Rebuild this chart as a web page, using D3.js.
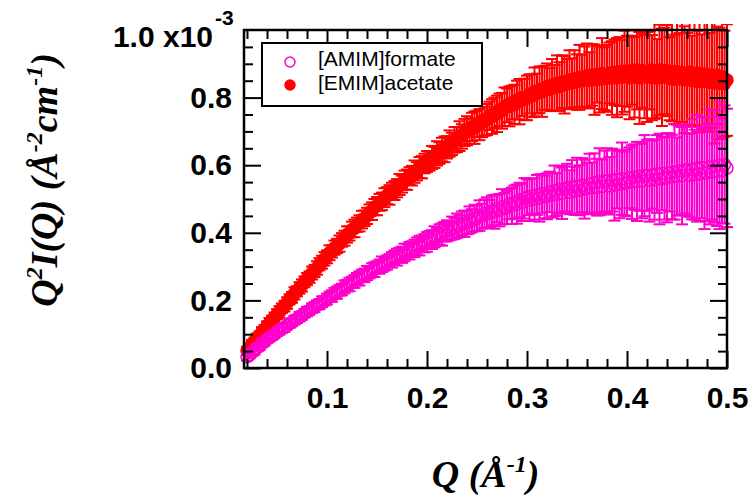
<!DOCTYPE html>
<html>
<head>
<meta charset="utf-8">
<script src="https://cdn.jsdelivr.net/npm/d3@7"></script>
<style>
  body { margin: 0; background: #fff; }
  svg { display: block; }
  .tick text { font-family: "Liberation Sans", Arial, sans-serif; font-weight: bold; font-size: 30px; fill: #000; }
  .tick line { stroke: #000; stroke-width: 2; }
</style>
</head>
<body>
<div id="chart"></div>
<script>
// Q in 1/Angstrom
const q = [
  0.0200, 0.0225, 0.0250, 0.0275, 0.0300, 0.0325, 0.0350, 0.0375,
  0.0400, 0.0425, 0.0450, 0.0475, 0.0500, 0.0525, 0.0550, 0.0575,
  0.0600, 0.0625, 0.0650, 0.0675, 0.0700, 0.0725, 0.0750, 0.0775,
  0.0800, 0.0825, 0.0850, 0.0875, 0.0900, 0.0925, 0.0950, 0.0975,
  0.1000, 0.1025, 0.1050, 0.1075, 0.1100, 0.1125, 0.1150, 0.1175,
  0.1200, 0.1225, 0.1250, 0.1275, 0.1300, 0.1325, 0.1350, 0.1375,
  0.1400, 0.1425, 0.1450, 0.1475, 0.1500, 0.1525, 0.1550, 0.1575,
  0.1600, 0.1625, 0.1650, 0.1675, 0.1700, 0.1725, 0.1750, 0.1775,
  0.1800, 0.1825, 0.1850, 0.1875, 0.1900, 0.1925, 0.1950, 0.1975,
  0.2000, 0.2025, 0.2050, 0.2075, 0.2100, 0.2125, 0.2150, 0.2175,
  0.2200, 0.2225, 0.2250, 0.2275, 0.2300, 0.2325, 0.2350, 0.2375,
  0.2400, 0.2425, 0.2450, 0.2475, 0.2500, 0.2525, 0.2550, 0.2575,
  0.2600, 0.2625, 0.2650, 0.2675, 0.2700, 0.2725, 0.2750, 0.2775,
  0.2800, 0.2825, 0.2850, 0.2875, 0.2900, 0.2925, 0.2950, 0.2975,
  0.3000, 0.3025, 0.3050, 0.3075, 0.3100, 0.3125, 0.3150, 0.3175,
  0.3200, 0.3225, 0.3250, 0.3275, 0.3300, 0.3325, 0.3350, 0.3375,
  0.3400, 0.3425, 0.3450, 0.3475, 0.3500, 0.3525, 0.3550, 0.3575,
  0.3600, 0.3625, 0.3650, 0.3675, 0.3700, 0.3725, 0.3750, 0.3775,
  0.3800, 0.3825, 0.3850, 0.3875, 0.3900, 0.3925, 0.3950, 0.3975,
  0.4000, 0.4025, 0.4050, 0.4075, 0.4100, 0.4125, 0.4150, 0.4175,
  0.4200, 0.4225, 0.4250, 0.4275, 0.4300, 0.4325, 0.4350, 0.4375,
  0.4400, 0.4425, 0.4450, 0.4475, 0.4500, 0.4525, 0.4550, 0.4575,
  0.4600, 0.4625, 0.4650, 0.4675, 0.4700, 0.4725, 0.4750, 0.4775,
  0.4800, 0.4825, 0.4850, 0.4875, 0.4900, 0.4925, 0.4950, 0.4975,
  0.5000
];

// Q^2 I(Q) for [AMIM]formate, units of 1e-3 A^-2 cm^-1
const formateI = [
  .033, .038, .046, .051, .060, .064, .073, .077,
  .086, .089, .096, .099, .107, .110, .117, .120,
  .125, .132, .135, .142, .145, .152, .155, .162,
  .167, .170, .177, .180, .187, .189, .196, .199,
  .204, .211, .213, .221, .223, .230, .232, .240,
  .244, .247, .254, .256, .263, .265, .273, .274,
  .281, .283, .290, .291, .298, .300, .307, .308,
  .312, .318, .320, .327, .328, .334, .335, .342,
  .345, .347, .353, .354, .361, .362, .368, .369,
  .373, .380, .380, .388, .388, .395, .395, .403,
  .406, .406, .414, .413, .421, .420, .428, .427,
  .430, .438, .436, .444, .443, .451, .449, .457,
  .460, .457, .466, .462, .472, .467, .477, .472,
  .475, .485, .480, .491, .485, .497, .490, .502,
  .505, .497, .509, .500, .512, .503, .516, .506,
  .508, .521, .511, .524, .514, .528, .517, .530,
  .533, .520, .536, .524, .538, .526, .541, .529,
  .531, .545, .533, .548, .535, .551, .537, .553,
  .554, .539, .556, .541, .558, .543, .560, .546,
  .548, .563, .550, .565, .552, .567, .553, .569,
  .570, .555, .572, .557, .574, .559, .576, .561,
  .563, .578, .565, .580, .567, .583, .569, .585,
  .586, .570, .588, .572, .591, .574, .593, .576,
  .578, .595, .580, .597, .582, .600, .584, .602,
  .592
];
const formateErr = [
  .011, .009, .010, .011, .009, .011, .011, .010,
  .011, .010, .012, .010, .012, .011, .012, .013,
  .011, .013, .011, .013, .012, .014, .012, .013,
  .014, .012, .014, .015, .013, .015, .016, .014,
  .016, .015, .017, .016, .018, .016, .017, .019,
  .017, .020, .016, .019, .018, .021, .018, .020,
  .021, .018, .020, .022, .018, .021, .023, .020,
  .021, .019, .023, .021, .025, .022, .024, .026,
  .022, .026, .022, .026, .025, .029, .024, .027,
  .029, .025, .028, .031, .026, .030, .033, .029,
  .031, .028, .034, .031, .036, .032, .035, .039,
  .034, .040, .034, .039, .038, .045, .037, .042,
  .045, .040, .044, .050, .041, .048, .052, .046,
  .049, .045, .054, .049, .058, .051, .055, .060,
  .053, .062, .052, .061, .059, .070, .057, .063,
  .068, .060, .066, .075, .062, .070, .076, .067,
  .071, .065, .079, .071, .084, .074, .080, .087,
  .076, .089, .075, .087, .084, .099, .080, .090,
  .096, .085, .093, .105, .086, .100, .107, .094,
  .099, .090, .109, .097, .117, .102, .110, .120,
  .105, .122, .101, .118, .115, .134, .109, .122,
  .132, .115, .125, .141, .115, .132, .144, .128,
  .135, .123, .148, .133, .158, .139, .150, .165,
  .144, .170, .141, .166, .162, .189, .155, .175,
  .175
];

// Q^2 I(Q) for [EMIM]acetate, units of 1e-3 A^-2 cm^-1
const acetateI = [
  .051, .059, .070, .078, .089, .096, .107, .114,
  .125, .132, .142, .149, .159, .166, .177, .183,
  .192, .203, .209, .221, .227, .237, .244, .255,
  .263, .269, .281, .287, .296, .307, .313, .323,
  .329, .341, .345, .356, .361, .368, .379, .384,
  .395, .398, .410, .413, .424, .428, .439, .443,
  .450, .461, .464, .476, .479, .490, .493, .504,
  .510, .512, .524, .525, .532, .543, .544, .556,
  .557, .568, .569, .581, .582, .593, .594, .605,
  .611, .612, .623, .623, .635, .636, .646, .647,
  .653, .664, .663, .675, .676, .686, .685, .697,
  .702, .701, .713, .711, .722, .720, .732, .730,
  .735, .746, .744, .755, .752, .764, .761, .773,
  .777, .774, .785, .780, .793, .788, .800, .795,
  .799, .811, .805, .817, .812, .823, .817, .829,
  .832, .824, .837, .829, .843, .833, .847, .838,
  .840, .853, .843, .856, .846, .860, .849, .862,
  .865, .851, .867, .853, .869, .854, .871, .856,
  .857, .873, .858, .875, .859, .877, .860, .878,
  .878, .859, .881, .860, .882, .858, .880, .862,
  .861, .881, .859, .880, .857, .882, .860, .879,
  .880, .856, .878, .854, .877, .855, .874, .853,
  .853, .876, .850, .873, .848, .872, .847, .870,
  .869, .845, .867, .843, .866, .842, .862, .841,
  .852
];
const acetateErr = [
  .012, .011, .013, .012, .013, .012, .014, .013,
  .013, .016, .013, .015, .015, .017, .014, .016,
  .017, .015, .016, .018, .015, .017, .018, .016,
  .018, .017, .019, .018, .020, .018, .019, .020,
  .019, .022, .018, .021, .021, .024, .020, .022,
  .024, .021, .023, .026, .021, .024, .026, .023,
  .024, .023, .026, .024, .027, .025, .026, .028,
  .025, .029, .024, .028, .027, .031, .025, .028,
  .030, .026, .029, .033, .027, .031, .033, .029,
  .031, .028, .034, .031, .036, .032, .035, .038,
  .033, .039, .033, .038, .037, .044, .036, .040,
  .043, .038, .042, .048, .039, .046, .049, .043,
  .046, .042, .051, .045, .054, .048, .053, .057,
  .050, .059, .050, .058, .057, .067, .055, .061,
  .066, .058, .063, .072, .059, .069, .074, .065,
  .069, .063, .077, .068, .082, .072, .078, .085,
  .074, .087, .073, .084, .082, .096, .078, .089,
  .095, .083, .091, .104, .084, .098, .105, .093,
  .099, .090, .109, .097, .117, .102, .110, .120,
  .105, .123, .102, .119, .117, .136, .110, .123,
  .133, .116, .126, .143, .116, .134, .144, .128,
  .135, .123, .148, .132, .157, .136, .146, .158,
  .138, .161, .133, .155, .150, .175, .140, .157,
  .167, .146, .157, .179, .144, .165, .178, .157,
  .165
];

const xMajorTicks = [0.1, 0.2, 0.3, 0.4, 0.5];
const xMinorTicks = [0.02, 0.04, 0.06, 0.08, 0.12, 0.14, 0.16, 0.18, 0.22, 0.24, 0.26, 0.28,
  0.32, 0.34, 0.36, 0.38, 0.42, 0.44, 0.46, 0.48];
const yMajorTicks = [0, 0.2, 0.4, 0.6, 0.8];
const yMinorTicks = [0.05, 0.1, 0.15, 0.25, 0.3, 0.35, 0.45, 0.5, 0.55, 0.65, 0.7, 0.75, 0.85, 0.9, 0.95];

const seriesNames = ['[AMIM]formate', '[EMIM]acetate'];
const seriesColors = ['#ff00cc', '#ff0000'];

const width = 753, height = 500;
const plot = {left: 244, right: 727, top: 30, bottom: 368};

const svg = d3.select('#chart').append('svg')
  .attr('width', width)
  .attr('height', height);

const x = d3.scaleLinear().domain([0.017, 0.5]).range([plot.left, plot.right]);
const y = d3.scaleLinear().domain([0, 1.0]).range([plot.bottom, plot.top]);

svg.append('clipPath').attr('id', 'clip')
  .append('rect').attr('x', 0).attr('y', plot.top - 6).attr('width', width).attr('height', height);

const dataGroup = svg.append('g').attr('clip-path', 'url(#clip)');

function drawSeries(values, errs, color, filled) {
  const pts = q.map((d, i) => ({q: d, v: values[i], e: errs[i]}));
  const g = dataGroup.append('g')
    .attr('stroke', color)
    .attr('stroke-width', 2);

  g.selectAll('circle').data(pts).join('circle')
    .attr('cx', d => x(d.q))
    .attr('cy', d => y(d.v))
    .attr('r', 6)
    .attr('fill', filled ? color : 'none')
    .attr('stroke-width', 1.5);

  const bars = g.selectAll('g.bar').data(pts).join('g').attr('class', 'bar');
  bars.append('line')
    .attr('x1', d => x(d.q)).attr('x2', d => x(d.q))
    .attr('y1', d => y(d.v - d.e)).attr('y2', d => y(d.v + d.e));
  bars.append('line')
    .attr('x1', d => x(d.q) - 6).attr('x2', d => x(d.q) + 6)
    .attr('y1', d => y(d.v + d.e)).attr('y2', d => y(d.v + d.e));
  bars.append('line')
    .attr('x1', d => x(d.q) - 6).attr('x2', d => x(d.q) + 6)
    .attr('y1', d => y(d.v - d.e)).attr('y2', d => y(d.v - d.e));
}

drawSeries(acetateI, acetateErr, seriesColors[1], true);
drawSeries(formateI, formateErr, seriesColors[0], false);

// axes: ticks point inward on all four sides
const fmt = d3.format('.1f');
svg.append('g').attr('transform', `translate(0,${plot.bottom})`)
  .call(d3.axisBottom(x).tickValues(xMajorTicks).tickSize(-17).tickSizeOuter(0).tickPadding(19).tickFormat(fmt))
  .call(g => g.select('.domain').remove());
svg.append('g').attr('transform', `translate(0,${plot.bottom})`)
  .call(d3.axisBottom(x).tickValues(xMinorTicks).tickSize(-9).tickFormat(''))
  .call(g => g.select('.domain').remove());
svg.append('g').attr('transform', `translate(0,${plot.top})`)
  .call(d3.axisTop(x).tickValues(xMajorTicks).tickSize(-17).tickFormat(''))
  .call(g => g.select('.domain').remove());
svg.append('g').attr('transform', `translate(0,${plot.top})`)
  .call(d3.axisTop(x).tickValues(xMinorTicks).tickSize(-9).tickFormat(''))
  .call(g => g.select('.domain').remove());

svg.append('g').attr('transform', `translate(${plot.left},0)`)
  .call(d3.axisLeft(y).tickValues(yMajorTicks).tickSize(-17).tickPadding(12).tickFormat(fmt))
  .call(g => g.select('.domain').remove());
svg.append('g').attr('transform', `translate(${plot.left},0)`)
  .call(d3.axisLeft(y).tickValues(yMinorTicks).tickSize(-9).tickFormat(''))
  .call(g => g.select('.domain').remove());
svg.append('g').attr('transform', `translate(${plot.right},0)`)
  .call(d3.axisRight(y).tickValues(yMajorTicks).tickSize(-17).tickFormat(''))
  .call(g => g.select('.domain').remove());
svg.append('g').attr('transform', `translate(${plot.right},0)`)
  .call(d3.axisRight(y).tickValues(yMinorTicks).tickSize(-9).tickFormat(''))
  .call(g => g.select('.domain').remove());

svg.append('rect')
  .attr('x', plot.left).attr('y', plot.top)
  .attr('width', plot.right - plot.left).attr('height', plot.bottom - plot.top)
  .attr('fill', 'none').attr('stroke', '#000').attr('stroke-width', 2.5);

// top y label with exponent
svg.append('text')
  .attr('x', 213).attr('y', 47)
  .attr('text-anchor', 'end')
  .style('font-family', '"Liberation Sans", Arial, sans-serif')
  .style('font-weight', 'bold').style('font-size', '30px')
  .text('1.0 x10');
svg.append('text')
  .attr('x', 215).attr('y', 25)
  .style('font-family', '"Liberation Sans", Arial, sans-serif')
  .style('font-weight', 'bold').style('font-size', '21px')
  .text('-3');

// axis titles
const titleFont = '"Liberation Serif", "Times New Roman", serif';
const xTitle = svg.append('text')
  .attr('x', (plot.left + plot.right) / 2).attr('y', 487)
  .attr('text-anchor', 'middle')
  .style('font-family', titleFont).style('font-style', 'italic')
  .style('font-weight', 'bold').style('font-size', '38px');
xTitle.append('tspan').text('Q (Å');
xTitle.append('tspan').attr('dy', -15).style('font-size', '24px').text('-1');
xTitle.append('tspan').attr('dy', 15).text(')');

const yTitle = svg.append('text')
  .attr('transform', 'translate(57,180) rotate(-90)')
  .attr('text-anchor', 'middle')
  .style('font-family', titleFont).style('font-style', 'italic')
  .style('font-weight', 'bold').style('font-size', '38px');
yTitle.append('tspan').text('Q');
yTitle.append('tspan').attr('dy', -15).style('font-size', '24px').text('2');
yTitle.append('tspan').attr('dy', 15).text('I(Q) (Å');
yTitle.append('tspan').attr('dy', -15).style('font-size', '24px').text('-2');
yTitle.append('tspan').attr('dy', 15).text('cm');
yTitle.append('tspan').attr('dy', -15).style('font-size', '24px').text('-1');
yTitle.append('tspan').attr('dy', 15).text(')');

// legend
const legend = svg.append('g');
legend.append('rect')
  .attr('x', 262).attr('y', 43).attr('width', 220).attr('height', 63)
  .attr('fill', '#fff').attr('stroke', '#000').attr('stroke-width', 2);
seriesNames.forEach((name, i) => {
  legend.append('circle')
    .attr('cx', 290).attr('cy', 62 + i * 23).attr('r', 5)
    .attr('fill', i === 0 ? 'none' : seriesColors[i])
    .attr('stroke', seriesColors[i]).attr('stroke-width', 1.5);
  legend.append('text')
    .attr('x', 318).attr('y', 66 + i * 24)
    .style('font-family', '"Liberation Sans", Arial, sans-serif')
    .style('font-size', '21px')
    .text(name);
});
</script>
</body>
</html>
